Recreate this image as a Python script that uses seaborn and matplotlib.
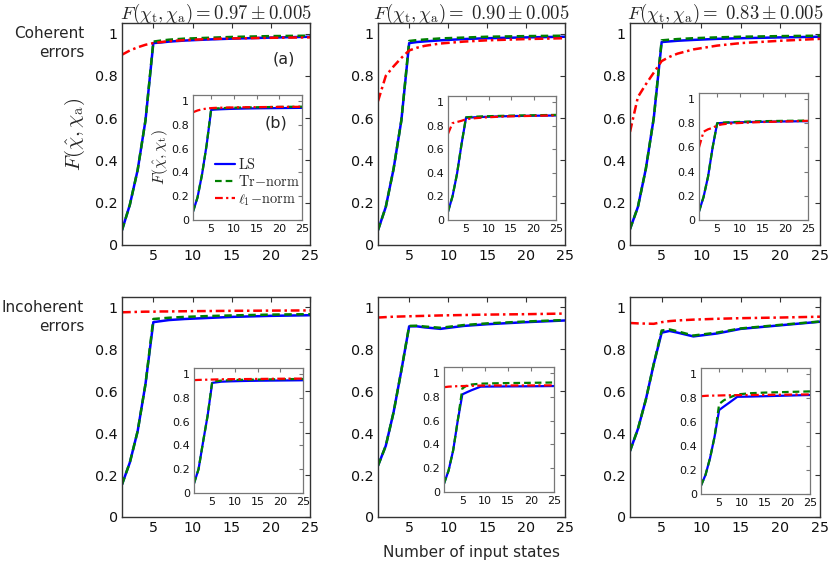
import matplotlib
matplotlib.use("Agg")
import matplotlib.pyplot as plt
import seaborn as sns
import pandas as pd

# ---------------- data ----------------
x = [1, 2, 3, 4, 5, 6, 7, 9, 12, 15, 20, 25]

# top row, main axes (coherent errors)
ls_a1 = [0.07, 0.19, 0.355, 0.59, 0.955, 0.958, 0.962, 0.967, 0.972, 0.976, 0.981, 0.985]
tr_a1 = [0.07, 0.19, 0.355, 0.59, 0.962, 0.967, 0.971, 0.976, 0.98, 0.984, 0.988, 0.99]
l1_a1 = [0.90, 0.92, 0.935, 0.947, 0.955, 0.96, 0.964, 0.969, 0.974, 0.977, 0.98, 0.982]
ls_a2 = [0.07, 0.18, 0.36, 0.59, 0.955, 0.96, 0.963, 0.968, 0.974, 0.978, 0.982, 0.985]
tr_a2 = [0.07, 0.18, 0.36, 0.59, 0.965, 0.969, 0.972, 0.977, 0.981, 0.985, 0.988, 0.99]
l1_a2 = [0.68, 0.80, 0.845, 0.885, 0.92, 0.933, 0.942, 0.953, 0.962, 0.968, 0.974, 0.978]
ls_a3 = [0.075, 0.18, 0.36, 0.60, 0.96, 0.963, 0.966, 0.97, 0.975, 0.978, 0.982, 0.985]
tr_a3 = [0.075, 0.18, 0.36, 0.60, 0.968, 0.971, 0.974, 0.978, 0.982, 0.985, 0.988, 0.99]
l1_a3 = [0.535, 0.70, 0.76, 0.815, 0.87, 0.89, 0.905, 0.925, 0.943, 0.955, 0.966, 0.975]

# top row, insets
ls_b1 = [0.07, 0.19, 0.385, 0.63, 0.925, 0.928, 0.93, 0.933, 0.936, 0.938, 0.94, 0.942]
tr_b1 = [0.07, 0.19, 0.385, 0.63, 0.935, 0.937, 0.939, 0.942, 0.945, 0.947, 0.95, 0.952]
l1_b1 = [0.905, 0.92, 0.93, 0.936, 0.94, 0.942, 0.943, 0.945, 0.947, 0.948, 0.95, 0.951]
ls_b2 = [0.07, 0.2, 0.39, 0.64, 0.865, 0.868, 0.87, 0.873, 0.877, 0.88, 0.883, 0.885]
tr_b2 = [0.07, 0.2, 0.39, 0.64, 0.87, 0.872, 0.875, 0.878, 0.881, 0.884, 0.887, 0.89]
l1_b2 = [0.73, 0.82, 0.83, 0.84, 0.853, 0.858, 0.862, 0.868, 0.874, 0.878, 0.882, 0.886]
ls_b3 = [0.07, 0.19, 0.36, 0.60, 0.80, 0.802, 0.804, 0.807, 0.81, 0.812, 0.815, 0.817]
tr_b3 = [0.07, 0.19, 0.36, 0.60, 0.80, 0.804, 0.807, 0.81, 0.814, 0.817, 0.82, 0.822]
l1_b3 = [0.60, 0.73, 0.75, 0.762, 0.782, 0.79, 0.795, 0.80, 0.806, 0.81, 0.815, 0.82]

# bottom row, main axes (incoherent errors)
ls_c1 = [0.155, 0.26, 0.41, 0.635, 0.93, 0.935, 0.94, 0.945, 0.95, 0.955, 0.96, 0.963]
tr_c1 = [0.155, 0.26, 0.41, 0.635, 0.945, 0.948, 0.951, 0.955, 0.959, 0.962, 0.966, 0.968]
l1_c1 = [0.977, 0.978, 0.979, 0.98, 0.98, 0.981, 0.981, 0.982, 0.983, 0.984, 0.985, 0.986]
ls_c2 = [0.245, 0.34, 0.50, 0.70, 0.91, 0.91, 0.905, 0.898, 0.912, 0.92, 0.93, 0.938]
tr_c2 = [0.245, 0.34, 0.50, 0.70, 0.912, 0.913, 0.909, 0.903, 0.916, 0.924, 0.933, 0.94]
l1_c2 = [0.952, 0.954, 0.956, 0.957, 0.958, 0.959, 0.96, 0.962, 0.964, 0.966, 0.968, 0.971]
ls_c3 = [0.315, 0.42, 0.56, 0.73, 0.88, 0.888, 0.88, 0.862, 0.876, 0.898, 0.915, 0.932]
tr_c3 = [0.315, 0.42, 0.56, 0.73, 0.89, 0.895, 0.886, 0.866, 0.88, 0.9, 0.917, 0.933]
l1_c3 = [0.926, 0.924, 0.923, 0.922, 0.93, 0.935, 0.938, 0.942, 0.946, 0.949, 0.952, 0.956]

# bottom row, insets
ls_d1 = [0.08, 0.2, 0.43, 0.65, 0.925, 0.93, 0.935, 0.938, 0.941, 0.943, 0.945, 0.947]
tr_d1 = [0.08, 0.2, 0.43, 0.65, 0.935, 0.94, 0.944, 0.948, 0.951, 0.953, 0.956, 0.958]
l1_d1 = [0.948, 0.95, 0.951, 0.952, 0.953, 0.954, 0.955, 0.956, 0.957, 0.958, 0.96, 0.961]
ls_d2 = [0.07, 0.18, 0.35, 0.60, 0.82, 0.838, 0.855, 0.885, 0.886, 0.887, 0.888, 0.89]
tr_d2 = [0.07, 0.18, 0.35, 0.60, 0.87, 0.895, 0.903, 0.91, 0.913, 0.915, 0.917, 0.92]
l1_d2 = [0.88, 0.885, 0.887, 0.889, 0.89, 0.891, 0.892, 0.894, 0.895, 0.895, 0.895, 0.896]
ls_d3 = [0.07, 0.16, 0.30, 0.48, 0.70, 0.728, 0.755, 0.81, 0.812, 0.815, 0.82, 0.825]
tr_d3 = [0.07, 0.16, 0.30, 0.48, 0.75, 0.78, 0.80, 0.83, 0.84, 0.845, 0.85, 0.855]
l1_d3 = [0.815, 0.818, 0.82, 0.82, 0.821, 0.822, 0.823, 0.824, 0.825, 0.826, 0.828, 0.83]

titles = [r"$F(\chi_{\rm t},\chi_{\rm a}){=}0.97\pm0.005$",
          r"$F(\chi_{\rm t},\chi_{\rm a}){=}\;0.90\pm0.005$",
          r"$F(\chi_{\rm t},\chi_{\rm a}){=}\;0.83\pm0.005$"]
row_labels = ["Coherent\nerrors", "Incoherent\nerrors"]
series_labels = [r"$\mathrm{LS}$", r"$\mathrm{Tr}\!-\!\mathrm{norm}$", r"$\ell_1\!-\!\mathrm{norm}$"]
xticks = [5, 10, 15, 20, 25]
yticks = [0, 0.2, 0.4, 0.6, 0.8, 1]
ytick_labels = ["0", "0.2", "0.4", "0.6", "0.8", "1"]

# ---------------- style ----------------
sns.set_theme(style="white")
plt.rcParams["font.family"] = ["DejaVu Sans"]
plt.rcParams["mathtext.fontset"] = "cm"

W, H = 830, 566
fig = plt.figure(figsize=(W / 100, H / 100), dpi=100)

def px_rect(x0, y0, x1, y1):
    return [x0 / W, (H - y1) / H, (x1 - x0) / W, (y1 - y0) / H]

main_rects = [[(122, 23, 310, 245), (378, 23, 565, 245), (630, 23, 820, 245)],
              [(122, 297, 310, 517), (378, 297, 565, 517), (630, 297, 820, 517)]]
inset_rects = [[(193, 95, 302, 220), (448, 96, 556, 220), (699, 93, 808, 220)],
               [(194, 368, 303, 493), (444, 367, 554, 492), (701, 368, 810, 494)]]

main_data = [[(ls_a1, tr_a1, l1_a1), (ls_a2, tr_a2, l1_a2), (ls_a3, tr_a3, l1_a3)],
             [(ls_c1, tr_c1, l1_c1), (ls_c2, tr_c2, l1_c2), (ls_c3, tr_c3, l1_c3)]]
inset_data = [[(ls_b1, tr_b1, l1_b1), (ls_b2, tr_b2, l1_b2), (ls_b3, tr_b3, l1_b3)],
              [(ls_d1, tr_d1, l1_d1), (ls_d2, tr_d2, l1_d2), (ls_d3, tr_d3, l1_d3)]]

colors = ["#0000ff", "#008000", "#ff0000"]
dashes = [None, (3.0, 1.8), (3.5, 1.5, 1.0, 1.5)]


def draw(ax, trio, lw, tick_fs, spine_col, inset=False):
    for i, (vals, col, ds) in enumerate(zip(trio, colors, dashes)):
        df = pd.DataFrame({"x": x, "y": vals})
        kw = dict(color=col, lw=lw, ax=ax, label=series_labels[i])
        line = sns.lineplot(data=df, x="x", y="y", **kw).get_lines()[-1]
        if ds is not None:
            line.set_dashes(ds)
    ax.set_xlim(1, 25)
    ax.set_ylim(0, 1.05)
    ax.set_xticks(xticks)
    ax.set_yticks(yticks)
    ax.set_yticklabels(ytick_labels)
    ax.set_xlabel("")
    ax.set_ylabel("")
    ax.tick_params(direction="in", top=True, right=True, length=3.5 if not inset else 3,
                   width=0.8, labelsize=tick_fs, colors=spine_col, labelcolor="#111111", pad=3)
    for s in ax.spines.values():
        s.set_color(spine_col)
        s.set_linewidth(1.0 if not inset else 0.9)
        s.set_visible(True)
    if ax.get_legend() is not None:
        ax.get_legend().remove()


for r in range(2):
    for c in range(3):
        ax = fig.add_axes(px_rect(*main_rects[r][c]))
        draw(ax, main_data[r][c], 1.8, 10.3, "#333333")
        if r == 0:
            ax.set_title(titles[c], fontsize=13.5, pad=3)
        if r == 0 and c == 0:
            ax.set_ylabel(r"$F(\hat{\chi},\chi_{\rm a})$", fontsize=15, labelpad=6)
            ax.text(0.86, 0.84, "(a)", transform=ax.transAxes, fontsize=11.5,
                    ha="center", va="center")
        ins = fig.add_axes(px_rect(*inset_rects[r][c]))
        draw(ins, inset_data[r][c], 1.6, 8, "#777777", inset=True)
        if r == 0 and c == 0:
            ins.set_ylabel(r"$F(\hat{\chi},\chi_{\rm t})$", fontsize=11.5, labelpad=1)
            ins.text(0.76, 0.78, "(b)", transform=ins.transAxes, fontsize=11.5,
                     ha="center", va="center")
            h, l = ins.get_legend_handles_labels()
            ins.legend(h, l, loc="lower left", bbox_to_anchor=(0.12, 0.03), frameon=False,
                       fontsize=10.3, handlelength=1.45, handletextpad=0.15, labelspacing=0.2,
                       borderpad=0.1)

fig.text(471 / W, 1 - 552 / H, "Number of input states", ha="center", va="center",
         fontsize=11)
fig.text(84 / W, 1 - 43 / H, row_labels[0], ha="right", va="center", fontsize=11,
         linespacing=1.35)
fig.text(84 / W, 1 - 317 / H, row_labels[1], ha="right", va="center", fontsize=11,
         linespacing=1.35)

fig.savefig("out.png", dpi=100)
